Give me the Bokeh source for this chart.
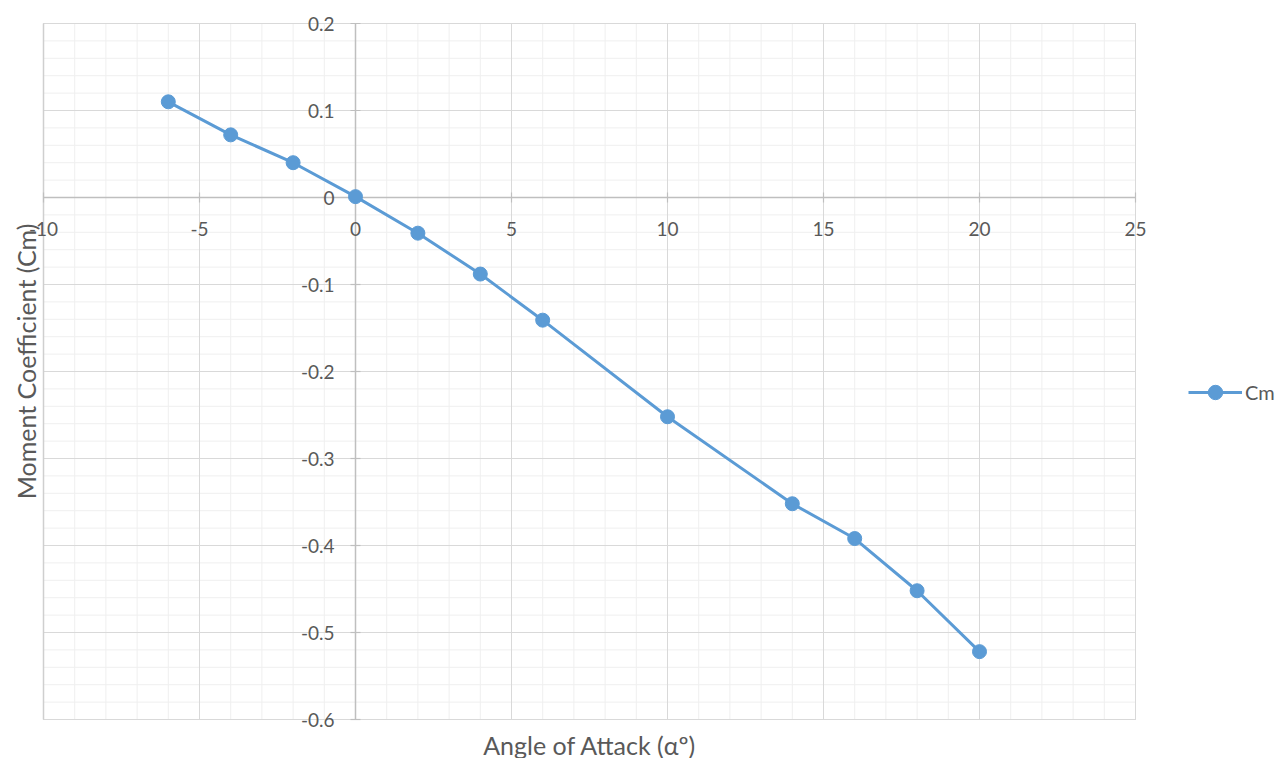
import numpy as np
from bokeh.plotting import figure
from bokeh.models import Range1d, Label, Legend, LegendItem
from bokeh.core.properties import value
from bokeh.embed import file_html
from bokeh.resources import INLINE

# Data
alpha = [-6, -4, -2, 0, 2, 4, 6, 10, 14, 16, 18, 20]
cm = [0.110, 0.072, 0.040, 0.001, -0.041, -0.088, -0.141, -0.252, -0.352, -0.392, -0.452, -0.522]

x_ticks = [-10, -5, 0, 5, 10, 15, 20, 25]
x_tick_labels = ["-10", "-5", "0", "5", "10", "15", "20", "25"]
y_ticks = [0.2, 0.1, 0.0, -0.1, -0.2, -0.3, -0.4, -0.5, -0.6]
y_tick_labels = ["0.2", "0.1", "0", "-0.1", "-0.2", "-0.3", "-0.4", "-0.5", "-0.6"]
x_minor = list(range(-10, 26))
y_minor = [round(-0.6 + 0.02 * i, 2) for i in range(41)]

X0, X1 = -10, 25
Y0, Y1 = -0.6, 0.2

FONT = "Lato"
TXT = "#595959"
BLUE = "#5B9BD5"

W, H = 1283, 758
# plot area in pixels: left 43, right 1135, top 23, bottom 719
kx = (1135 - 43) / (X1 - X0)
ky = (719 - 23) / (Y1 - Y0)
xr = Range1d(X0 - 43 / kx, X1 + (W - 1135) / kx)
yr = Range1d(Y0 - (H - 719) / ky, Y1 + 23 / ky)

p = figure(width=W, height=H, output_backend="svg", toolbar_location=None,
           x_range=xr, y_range=yr, min_border=0)
p.xaxis.visible = False
p.yaxis.visible = False
p.xgrid.visible = False
p.ygrid.visible = False
p.outline_line_color = None
p.background_fill_color = "white"
p.border_fill_color = "white"

# minor grid
p.segment(x0=x_minor, y0=[Y0] * len(x_minor), x1=x_minor, y1=[Y1] * len(x_minor),
          line_color="#efefef", line_width=1)
p.segment(x0=[X0] * len(y_minor), y0=y_minor, x1=[X1] * len(y_minor), y1=y_minor,
          line_color="#efefef", line_width=1)
# major grid
p.segment(x0=x_ticks, y0=[Y0] * len(x_ticks), x1=x_ticks, y1=[Y1] * len(x_ticks),
          line_color="#d9d9d9", line_width=1)
p.segment(x0=[X0] * len(y_ticks), y0=y_ticks, x1=[X1] * len(y_ticks), y1=y_ticks,
          line_color="#d9d9d9", line_width=1)
# plot area border
p.quad(left=[X0], right=[X1], bottom=[Y0], top=[Y1], fill_color=None,
       line_color="#d9d9d9", line_width=1)
p.segment(x0=[X0], y0=[Y0], x1=[X0], y1=[Y1], line_color="#cfcfcf", line_width=1.5)

# axis lines crossing at origin
p.segment(x0=[X0], y0=[0], x1=[X1], y1=[0], line_color="#bfbfbf", line_width=1.5)
p.segment(x0=[0], y0=[Y0], x1=[0], y1=[Y1], line_color="#bfbfbf", line_width=1.5)

# tick marks
p.scatter([0] * len(y_ticks), y_ticks, marker="dash", size=10, line_color="#bfbfbf", line_width=1.2)
p.scatter(x_ticks, [0] * len(x_ticks), marker="dash", angle=np.pi / 2, size=10,
          line_color="#bfbfbf", line_width=1.2)

# tick labels
p.text(x=x_ticks, y=[0] * len(x_ticks), text=x_tick_labels, text_align="center",
       text_baseline="middle", y_offset=31, text_font=value(FONT), text_font_size="19px",
       text_color=TXT)
p.text(x=[0] * len(y_ticks), y=y_ticks, text=y_tick_labels, text_align="right",
       text_baseline="middle", x_offset=-21, text_font=value(FONT), text_font_size="19px",
       text_color=TXT)

# axis titles
p.add_layout(Label(x=589, y=H - 744, x_units="screen", y_units="screen",
                   text="Angle of Attack (αº)", text_align="center", text_baseline="middle",
                   text_font=FONT, text_font_size="25px", text_color=TXT))
p.add_layout(Label(x=25, y=H - 361, x_units="screen", y_units="screen",
                   text="Moment Coefficient (Cm)", text_align="center", text_baseline="middle",
                   angle=np.pi / 2, text_font=FONT, text_font_size="25px", text_color=TXT))

line = p.line(alpha, cm, line_color=BLUE, line_width=3)
pts = p.scatter(alpha, cm, size=14, fill_color=BLUE, line_color=BLUE)

legend = Legend(items=[LegendItem(label="Cm", renderers=[line, pts])],
                location=(1188, H - 392 - 18), glyph_width=54, glyph_height=36,
                label_text_font=FONT, label_text_font_size="20px", label_text_color=TXT,
                label_standoff=3, padding=0, margin=0, border_line_color=None,
                background_fill_alpha=0, label_height=36)
p.add_layout(legend)

open("out.html", "w").write(file_html(p, INLINE))
